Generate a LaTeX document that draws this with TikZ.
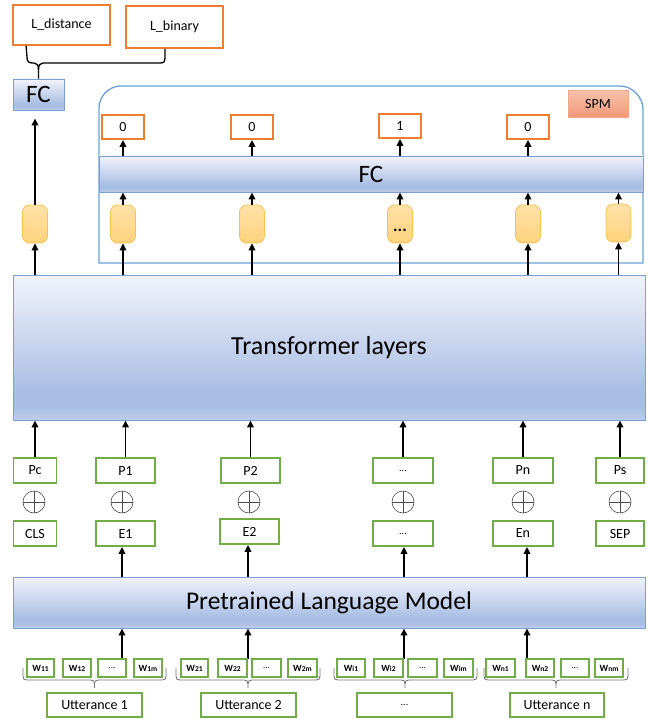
\documentclass[tikz,border=0pt]{standalone}
\usepackage{fontspec}
\setmainfont{Carlito}
\usetikzlibrary{arrows.meta,calc}
\definecolor{obord}{HTML}{ED7D31}
\definecolor{gbord}{HTML}{70AD47}
\definecolor{bbord}{HTML}{7E9ED6}
\definecolor{spmline}{HTML}{6A9FD8}
\definecolor{gtop}{HTML}{F0F3FA}
\definecolor{gmid}{HTML}{C9D5EE}
\definecolor{glow}{HTML}{A9BEE3}
\definecolor{gbot}{HTML}{BDCCEA}
\definecolor{ovt}{HTML}{FFE2A8}
\definecolor{ovbot}{HTML}{FFD27C}
\definecolor{ovb}{HTML}{F8C24E}
\definecolor{spmt}{HTML}{F7C0A9}
\definecolor{spmb}{HTML}{F09878}
\definecolor{spmd}{HTML}{F4A688}
\pgfdeclareverticalshading{bluegrad}{100bp}{color(0bp)=(gbot); color(25bp)=(gbot); color(30bp)=(glow); color(35bp)=(glow); color(52bp)=(gmid); color(75bp)=(gtop); color(100bp)=(gtop)}
\newcommand{\wtxt}[1]{{\bfseries\fontsize{9.5}{9.5}\selectfont W\fontsize{7.5}{7.5}\selectfont #1}}
\newcommand{\ubr}[3]{%
 \draw[ubrace] (#1,668) -- (#1,676) .. controls (#1,679) and ({#1+1},680) .. ({#1+4},680) -- ({#2-4},680) .. controls ({#2-1},680) and (#2,681) .. (#2,684) -- (#2,688);
 \draw[ubrace] (#2,684) .. controls (#2,681) and ({#2+1},680) .. ({#2+4},680) -- ({#3-4},680) .. controls ({#3-1},680) and (#3,679) .. (#3,676) -- (#3,668);}
\begin{document}
\begin{tikzpicture}[x=1pt,y=-1pt,
  lbl/.style={font=\fontsize{14}{16}\selectfont, inner sep=0pt},
  obox/.style={draw=obord, line width=1.8pt, fill=white, lbl, minimum width=42pt, minimum height=24pt},
  gbox/.style={draw=gbord, line width=1.8pt, fill=white, lbl, minimum height=25pt},
  wbox/.style={draw=gbord, line width=1.6pt, fill=white, minimum height=18pt, minimum width=28pt, inner sep=0pt},
  bluebox/.style={draw=bbord, line width=0.9pt, shading=bluegrad, inner sep=0pt},
  lstm/.style={draw=ovb, line width=0.7pt, top color=ovt, bottom color=ovbot, rounded corners=7pt, minimum width=25pt, minimum height=38pt, inner sep=0pt},
  arr/.style={-{Triangle[length=7pt,width=6.5pt]}, line width=1.7pt},
  ubrace/.style={draw=black!55, line width=0.8pt},
  topbrace/.style={draw=black, line width=1.3pt},
  oplus/.style={circle, draw=black!70, line width=0.6pt, minimum size=22pt, inner sep=0pt,
    path picture={\draw[black!70, line width=0.6pt] (path picture bounding box.north) -- (path picture bounding box.south) (path picture bounding box.west) -- (path picture bounding box.east);}},
  smalldots/.style={font=\fontsize{10}{12}\selectfont}
]
\useasboundingbox (0,0) rectangle (652,719);

% ---------- loss boxes ----------
\node[obox, minimum width=97pt, minimum height=40pt] (ld) at (61.5,25) {L\_distance};
\node[obox, minimum width=97pt, minimum height=42pt] (lb) at (174.5,27) {L\_binary};
\node[bluebox, minimum width=51pt, minimum height=31pt, font=\fontsize{25}{25}\selectfont] (fc0) at (38.5,94.5) {FC};
\draw[topbrace] ([xshift=14pt]ld.south west) -- (27,57) .. controls (27,62) and (29,63) .. (33,63) -- (34,63) .. controls (37,63) and (38.5,65) .. (38.5,70) -- (fc0.north);
\draw[topbrace] (38.5,70) .. controls (38.5,65) and (40,63) .. (43,63) -- (160,63) .. controls (164,63) and (165,62) .. (165,57) -- ([xshift=-9.5pt]lb.south);

% ---------- SPM container ----------
\draw[spmline, line width=1.3pt] (99,263) -- (99,108) .. controls (99,96) and (109,86) .. (121,86) -- (620,86) .. controls (632,86) and (643,97) .. (643,109) -- (643,263) -- cycle;
\node[draw=spmd, line width=1pt, top color=spmt, bottom color=spmb, minimum width=60pt, minimum height=27pt, lbl] (spm) at (598,104.5) {SPM};
\node[bluebox, minimum width=544pt, minimum height=36pt, font=\fontsize{25}{25}\selectfont] (fcb) at (371,174) {FC};

\node[obox] (o1) at (123,127) {0};
\node[obox] (o2) at (252,127) {0};
\node[obox] (o3) at (400,126) {1};
\node[obox] (o4) at (528,127) {0};

\node[lstm] (ov0) at (35,224) {};
\node[lstm] (ov1) at (123,224) {};
\node[lstm] (ov2) at (252,224) {};
\node[lstm] (ov3) at (400,224) {\raisebox{-7pt}[0pt][0pt]{\fontsize{17}{17}\selectfont\bfseries ...}};
\node[lstm] (ov4) at (528,224) {};
\node[lstm] (ov5) at (618.5,223) {};

\coordinate (fcin) at ([yshift=-8pt]fc0.south);
\draw[arr] (ov0.north) -- (ov0.north |- fcin);
\foreach \k in {1,...,5}{\draw[arr] (ov\k.north) -- (ov\k.north |- fcb.south);}
\foreach \k in {1,...,4}{\draw[arr] (fcb.north -| o\k) -- (o\k.south);}

% ---------- Transformer ----------
\node[bluebox, minimum width=632pt, minimum height=145pt, font=\fontsize{26}{30}\selectfont] (tr) at (329,347.5) {Transformer layers};
\foreach \k in {0,...,5}{\draw[arr] (tr.north -| ov\k) -- (ov\k.south);}

% ---------- position + embeddings ----------
\node[gbox, minimum width=43pt] (pc) at (35,470.5) {Pc};
\node[gbox, minimum width=59pt] (p1) at (125.5,470.5) {P1};
\node[gbox, minimum width=59pt] (p2) at (250.5,470.5) {P2};
\node[gbox, minimum width=60pt, smalldots] (pd) at (403,470.5) {...};
\node[gbox, minimum width=60pt] (pn) at (523,470.5) {Pn};
\node[gbox, minimum width=48pt] (ps) at (620,470.5) {Ps};
\foreach \n in {pc,p1,p2,pd,pn,ps}{\draw[arr] (\n.north) -- (\n.north |- tr.south);}

\node[oplus] (c1) at (34,502) {};
\node[oplus] (c2) at (122,502) {};
\node[oplus] (c3) at (249,502) {};
\node[oplus] (c4) at (403,502) {};
\node[oplus] (c5) at (523,502) {};
\node[oplus] (c6) at (620,502) {};

\node[gbox, minimum width=43pt] (cls) at (35,533.5) {CLS};
\node[gbox, minimum width=59pt] (e1) at (125.5,533.5) {E1};
\node[gbox, minimum width=59pt] (e2) at (249.5,531.5) {E2};
\node[gbox, minimum width=60pt, smalldots] (ed) at (403,533.5) {...};
\node[gbox, minimum width=60pt] (en) at (523,533.5) {En};
\node[gbox, minimum width=48pt] (sep) at (620,533.5) {SEP};

% ---------- PLM ----------
\node[bluebox, minimum width=632pt, minimum height=51pt, font=\fontsize{25.5}{28}\selectfont] (plm) at (329,602.5) {Pretrained Language Model};

\coordinate (a1) at (122,659);
\coordinate (a2) at (248,659);
\coordinate (a3) at (404,659);
\coordinate (a4) at (527,659);
\draw[arr] (plm.north -| a1) -- (a1 |- e1.south);
\draw[arr] (plm.north -| a2) -- (a2 |- e2.south);
\draw[arr] (plm.north -| a3) -- (a3 |- ed.south);
\draw[arr] (plm.north -| a4) -- (a4 |- en.south);
\foreach \k in {1,...,4}{\draw[arr] (a\k) -- (a\k |- plm.south);}

% ---------- words ----------
\node[wbox, minimum width=27pt] (w11) at (40.5,668) {\wtxt{11}};
\node[wbox] (w12) at (77,668) {\wtxt{12}};
\node[wbox, font=\fontsize{9}{9}\selectfont] (w13) at (112,668) {...};
\node[wbox] (w14) at (148,668) {\wtxt{1m}};
\node[wbox, minimum width=27pt] (w21) at (194.5,668) {\wtxt{21}};
\node[wbox, minimum width=29pt] (w22) at (232.5,668) {\wtxt{22}};
\node[wbox, minimum width=29pt, font=\fontsize{9}{9}\selectfont] (w23) at (266.5,668) {...};
\node[wbox, minimum width=29pt] (w24) at (302.5,668) {\wtxt{2m}};
\node[wbox] (wi1) at (351,668) {\wtxt{i1}};
\node[wbox, minimum width=29pt] (wi2) at (388.5,668) {\wtxt{i2}};
\node[wbox, minimum width=29pt, font=\fontsize{9}{9}\selectfont] (wi3) at (422.5,668) {...};
\node[wbox, minimum width=29pt] (wi4) at (458.5,668) {\wtxt{im}};
\node[wbox, minimum width=29pt] (wn1) at (500.5,668) {\wtxt{n1}};
\node[wbox] (wn2) at (540,668) {\wtxt{n2}};
\node[wbox, font=\fontsize{9}{9}\selectfont] (wn3) at (575,668) {...};
\node[wbox] (wn4) at (609,668) {\wtxt{nm}};

\ubr{23}{94.5}{166}
\ubr{176}{248}{320}
\ubr{334}{405}{477}
\ubr{484}{556}{628}

\node[gbox, minimum width=95pt, minimum height=24pt] (u1) at (94.5,705) {Utterance 1};
\node[gbox, minimum width=95pt, minimum height=24pt] (u2) at (248.5,705) {Utterance 2};
\node[gbox, minimum width=95pt, minimum height=24pt, smalldots] (ud) at (404.5,705) {...};
\node[gbox, minimum width=94pt, minimum height=24pt] (un) at (557,705) {Utterance n};
\end{tikzpicture}
\end{document}
